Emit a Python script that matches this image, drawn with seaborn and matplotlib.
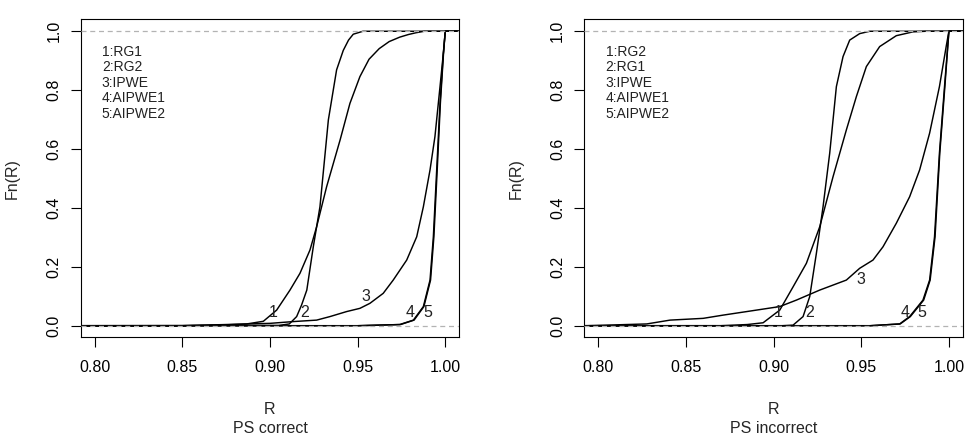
import seaborn as sns
import matplotlib.pyplot as plt
import pandas as pd


# ECDF curves: R values and Fn(R) values

# PS correct panel
c_rg1_r = [0.79, 0.85, 0.875, 0.8867, 0.8962, 0.9038, 0.9114, 0.9171, 0.9228, 0.9266, 0.9323, 0.940,
           0.9456, 0.9513, 0.9565, 0.9623, 0.968, 0.974, 0.979, 0.9833, 0.988, 1.01]
c_rg1_f = [0, 0, 0.003, 0.006, 0.015, 0.053, 0.121, 0.178, 0.257, 0.336, 0.472, 0.631,
           0.755, 0.846, 0.905, 0.941, 0.965, 0.98, 0.989, 0.995, 1, 1]
c_rg2_r = [0.79, 0.905, 0.911, 0.9152, 0.918, 0.921, 0.9247, 0.9285, 0.9333, 0.938, 0.9418, 0.9448,
           0.9475, 0.953, 1.01]
c_rg2_f = [0, 0.001, 0.006, 0.031, 0.07, 0.121, 0.268, 0.404, 0.699, 0.869, 0.935, 0.97,
           0.99, 1, 1]
c_ipwe_r = [0.79, 0.85, 0.90, 0.9132, 0.9266, 0.9342, 0.9437, 0.9513, 0.957, 0.9646, 0.9703, 0.978,
            0.9837, 0.9875, 0.9913, 0.9941, 0.997, 0.9989, 1.0, 1.01]
c_ipwe_f = [0, 0, 0.008, 0.014, 0.019, 0.031, 0.048, 0.059, 0.076, 0.11, 0.155, 0.223,
            0.302, 0.404, 0.529, 0.642, 0.812, 0.925, 1, 1]
c_aipwe1_r = [0.79, 0.95, 0.974, 0.9818, 0.9875, 0.9913, 0.9932, 0.9951, 0.997, 0.9989, 1.0, 1.01]
c_aipwe1_f = [0, 0, 0.004, 0.019, 0.065, 0.155, 0.302, 0.529, 0.755, 0.925, 1, 1]
c_aipwe2_r = [0.79, 0.95, 0.9745, 0.9822, 0.9878, 0.9916, 0.9935, 0.9954, 0.9972, 0.999, 1.0, 1.01]
c_aipwe2_f = [0, 0, 0.004, 0.019, 0.065, 0.155, 0.302, 0.529, 0.755, 0.925, 1, 1]

# PS incorrect panel
i_rg2_r = [0.79, 0.87, 0.885, 0.894, 0.9035, 0.9111, 0.9187, 0.9263, 0.9339, 0.9415, 0.9472, 0.9529,
           0.9605, 0.970, 0.9795, 0.9868, 1.01]
i_rg2_f = [0, 0, 0.004, 0.01, 0.053, 0.132, 0.212, 0.336, 0.506, 0.665, 0.778, 0.88,
           0.948, 0.985, 0.998, 1, 1]
i_rg1_r = [0.79, 0.905, 0.9111, 0.9168, 0.9206, 0.9244, 0.9282, 0.932, 0.9358, 0.9396, 0.9434,
           0.9491, 0.9548, 1.01]
i_rg1_f = [0, 0, 0.002, 0.031, 0.099, 0.246, 0.404, 0.586, 0.812, 0.914, 0.97, 0.992, 1, 1]
i_ipwe_r = [0.79, 0.7934, 0.8276, 0.8409, 0.8598, 0.8712, 0.8902, 0.9035, 0.913, 0.9263, 0.9415,
            0.9491, 0.9567, 0.9624, 0.970, 0.9776, 0.9833, 0.989, 0.9946, 0.9985, 1.0, 1.01]
i_ipwe_f = [0, 0, 0.006, 0.019, 0.025, 0.036, 0.053, 0.065, 0.087, 0.121, 0.155,
            0.195, 0.223, 0.268, 0.348, 0.438, 0.529, 0.654, 0.812, 0.95, 1, 1]
i_aipwe1_r = [0.79, 0.955, 0.9719, 0.9776, 0.9852, 0.989, 0.9918, 0.9946, 0.9975, 1.0, 1.01]
i_aipwe1_f = [0, 0, 0.006, 0.031, 0.087, 0.155, 0.302, 0.586, 0.812, 1, 1]
i_aipwe2_r = [0.79, 0.955, 0.9722, 0.978, 0.9856, 0.9893, 0.9921, 0.9948, 0.9977, 1.0, 1.01]
i_aipwe2_f = [0, 0, 0.006, 0.031, 0.087, 0.155, 0.302, 0.586, 0.812, 1, 1]

legend_correct = ["1:RG1", "2:RG2", "3:IPWE", "4:AIPWE1", "5:AIPWE2"]
legend_incorrect = ["1:RG2", "2:RG1", "3:IPWE", "4:AIPWE1", "5:AIPWE2"]
curve_numbers = ["1", "2", "3", "4", "5"]
label_r_correct = [0.9018, 0.920, 0.9548, 0.980, 0.990]
label_f_correct = [0.044, 0.044, 0.098, 0.044, 0.044]
label_r_incorrect = [0.9026, 0.9203, 0.950, 0.9748, 0.9848]
label_f_incorrect = [0.044, 0.044, 0.158, 0.044, 0.044]

x_ticks = [0.80, 0.85, 0.90, 0.95, 1.00]
y_ticks = [0.0, 0.2, 0.4, 0.6, 0.8, 1.0]

sns.set_theme(style="white")
plt.rcParams['font.family'] = ['Liberation Sans', 'DejaVu Sans']

fig = plt.figure(figsize=(9.7, 4.46), dpi=100)
ax1 = fig.add_axes([0.0832, 0.2433, 0.3903, 0.713])
ax2 = fig.add_axes([0.6024, 0.2433, 0.3903, 0.713])

panels = [
    (ax1, [(c_rg1_r, c_rg1_f), (c_rg2_r, c_rg2_f), (c_ipwe_r, c_ipwe_f),
           (c_aipwe1_r, c_aipwe1_f), (c_aipwe2_r, c_aipwe2_f)],
     legend_correct, label_r_correct, label_f_correct, "PS correct"),
    (ax2, [(i_rg2_r, i_rg2_f), (i_rg1_r, i_rg1_f), (i_ipwe_r, i_ipwe_f),
           (i_aipwe1_r, i_aipwe1_f), (i_aipwe2_r, i_aipwe2_f)],
     legend_incorrect, label_r_incorrect, label_f_incorrect, "PS incorrect"),
]

for ax, curves, leg, lab_r, lab_f, sub in panels:
    for r, f in curves:
        df = pd.DataFrame({"R": r, "Fn": f})
        sns.lineplot(data=df, x="R", y="Fn", ax=ax, color="black", lw=1.05,
                     sort=False, estimator=None, zorder=2)
    # gray dashed 0/1 lines on top, like R's plot.ecdf
    ax.axhline(0, color="#b3b3b3", ls=(0, (4, 3)), lw=0.9, zorder=3)
    ax.axhline(1, color="#b3b3b3", ls=(0, (4, 3)), lw=0.9, zorder=3)

    for num, r, f in zip(curve_numbers, lab_r, lab_f):
        ax.text(r, f, num, ha="center", va="center", fontsize=11.5, color="#222222", zorder=4)

    for k, txt in enumerate(leg):
        ax.text(0.056, 0.899 - k * 0.0487, txt, transform=ax.transAxes,
                ha="left", va="center", fontsize=10, color="#222222")

    ax.set_xlim(0.792, 1.008)
    ax.set_ylim(-0.04, 1.04)
    ax.set_xticks(x_ticks)
    ax.set_xticklabels(["%.2f" % v for v in x_ticks])
    ax.set_yticks(y_ticks)
    ax.set_yticklabels(["%.1f" % v for v in y_ticks], rotation=90, va="center")
    ax.tick_params(axis="both", which="major", direction="out", length=7, width=0.8,
                   labelsize=11.5, colors="black", bottom=True, left=True)
    ax.tick_params(axis="x", pad=9)
    ax.tick_params(axis="y", pad=7)
    for s in ax.spines.values():
        s.set_visible(True)
        s.set_color("black")
        s.set_linewidth(0.8)
    ax.set_xlabel("")
    ax.set_ylabel("")
    ax.text(0.5, -0.225, "R", transform=ax.transAxes, ha="center", va="center", fontsize=11.5)
    ax.text(0.5, -0.285, sub, transform=ax.transAxes, ha="center", va="center", fontsize=11.5)
    ax.text(-0.181, 0.5, "Fn(R)", transform=ax.transAxes, ha="center", va="center",
            rotation=90, fontsize=11.5)

fig.savefig("out.png", dpi=100)
